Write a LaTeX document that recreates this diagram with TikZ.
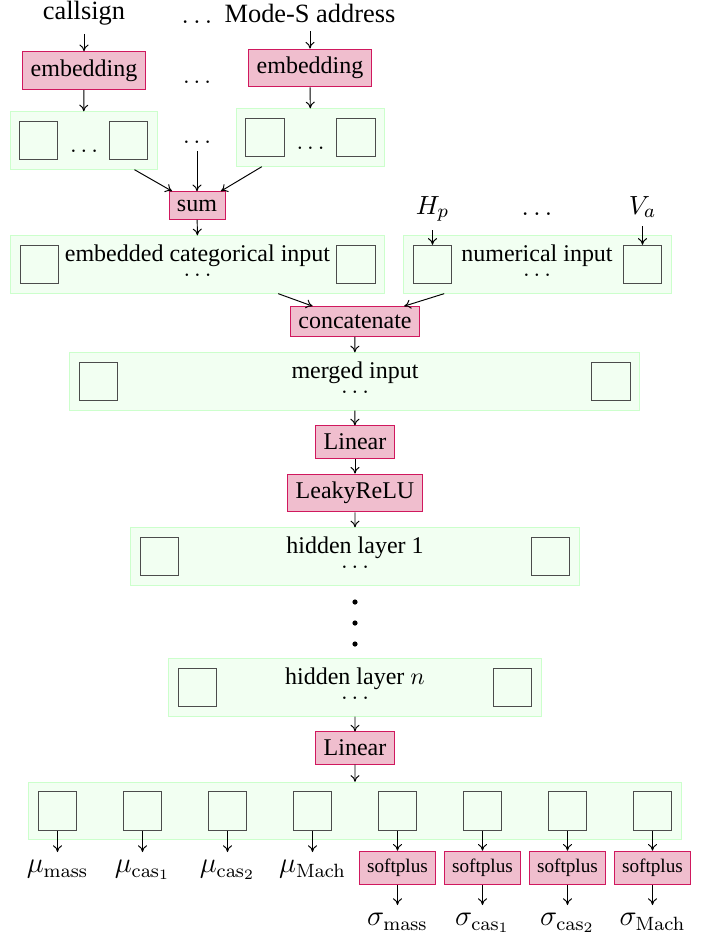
\documentclass[tikz,border=0pt]{standalone}
\usepackage[no-math]{fontspec}
\setmainfont{Liberation Serif}
\usetikzlibrary{arrows,arrows.meta,positioning,fit,calc}
\pgfdeclarelayer{background}
\pgfsetlayers{background,main}
\definecolor{oppink}{RGB}{240,190,206}
\definecolor{opred}{RGB}{208,24,94}

\begin{document}
\begin{tikzpicture}[x=0.4167pt,y=-0.4167pt,>={To[length=2.8pt,width=3.8pt]},
  op/.style={draw=opred,fill=oppink},
  unit/.style={draw=black!70,fill=green!5,minimum size=16pt,inner sep=0pt},
  layer/.style={draw=green!20,fill=green!5,inner sep=3.75pt},
  ttl/.style={anchor=base,inner sep=0pt},
  inp/.style={font=\fontsize{11}{13}\selectfont},
  outp/.style={font=\fontsize{12}{14}\selectfont,anchor=north}]
  \useasboundingbox (0,0) rectangle (707,940);

  % categorical inputs
  \node[inp] (callsign) at (84,13.3) {callsign};
  \node[inp] (modes) at (310,13.3) {Mode-S address};
  \node[inp,anchor=base] (dots_1) at (197,23) {$\dots$};
  \node[op] (emb_1) [below=7.3pt of callsign] {embedding};
  \node[op] (emb_2) [below=7.3pt of modes] {embedding};
  \node[anchor=base] (dots_2) at (197,83) {$\dots$};
  \node[unit] (g1_a) at (38.7,140.5) {};
  \node[unit] (g1_b) at (128.5,140.5) {};
  \node[ttl] at (84,152) {$\dots$};
  \node[anchor=base] (dots_3) at (197,143) {$\dots$};
  \node[unit] (g2_a) at (265,137.5) {};
  \node[unit] (g2_b) at (356,137.5) {};
  \node[ttl] at (310.5,149) {$\dots$};
  \node[op] (sum) at (197,205.5) {sum};

  % embedded + numerical
  \node[unit] (c_a) at (39.5,264.5) {};
  \node[unit] (c_b) at (356,264.5) {};
  \node[ttl] at (197.5,261) {embedded categorical input};
  \node[ttl] at (197.5,276) {$\dots$};
  \node[inp,anchor=base] (h_p) at (432.5,214) {$H_p$};
  \node[inp,anchor=base] at (537,215) {$\dots$};
  \node[inp,anchor=base] (v_a) at (642.5,214) {$V_a$};
  \node[unit] (n_a) at (432.5,264.5) {};
  \node[unit] (n_b) at (642.5,264.5) {};
  \node[ttl] at (537,261) {numerical input};
  \node[ttl] at (537,276) {$\dots$};
  \node[op] (concat) at (355,321.5) {concatenate};

  % merged and hidden layers
  \node[unit] (m_a) at (98.5,381.5) {};
  \node[unit] (m_b) at (611,381.5) {};
  \node[ttl] at (355,378) {merged input};
  \node[ttl] at (355,393.5) {$\dots$};
  \node[op] (lin_1) at (355,442) {Linear};
  \node[op] (relu) at (355,493) {LeakyReLU};
  \node[unit] (h1_a) at (159.5,556.5) {};
  \node[unit] (h1_b) at (550.5,556.5) {};
  \node[ttl] at (355,553) {hidden layer 1};
  \node[ttl] at (355,568) {$\dots$};
  \foreach \y in {602,623,644}
    \fill (355,\y) circle (2.6);
  \node[unit] (hn_a) at (197.5,687.5) {};
  \node[unit] (hn_b) at (512.5,687.5) {};
  \node[ttl] at (355,684) {hidden layer $n$};
  \node[ttl] at (355,699) {$\dots$};
  \node[op] (lin_2) at (355,748) {Linear};

  % outputs
  \foreach \i in {1,...,8}
    \node[unit] (o_\i) at ({85*\i-27.5},811) {};

  \begin{pgfonlayer}{background}
    \node[layer,fit=(g1_a)(g1_b)] (g_1) {};
    \node[layer,fit=(g2_a)(g2_b)] (g_2) {};
    \node[layer,fit=(c_a)(c_b)] (cat_in) {};
    \node[layer,fit=(n_a)(n_b)] (num_in) {};
    \node[layer,fit=(m_a)(m_b)] (merged) {};
    \node[layer,fit=(h1_a)(h1_b)] (hid_1) {};
    \node[layer,fit=(hn_a)(hn_b)] (hid_n) {};
    \node[layer,fit=(o_1)(o_8)] (out) {};
  \end{pgfonlayer}

  \path[->]
    (callsign) edge (emb_1)
    (modes) edge (emb_2)
    (emb_1) edge (g_1)
    (emb_2) edge (g_2)
    (g_1) edge (sum)
    (dots_3) edge (sum)
    (g_2) edge (sum)
    (sum) edge (cat_in)
    (h_p) edge (n_a)
    (v_a) edge (n_b)
    (cat_in) edge (concat)
    (num_in) edge (concat)
    (concat) edge (merged)
    (merged) edge (lin_1)
    (lin_1) edge (relu)
    (relu) edge (hid_1)
    (hid_n) edge (lin_2)
    (lin_2) edge (out);

  \foreach \lab [count=\i] in {mass,cas_1,cas_2,Mach} {
    \node[outp] (mu_\i) at ({85*\i-27.5},852) {$\mu_{\mathrm{\lab}}$};
    \path[->] (o_\i) edge (mu_\i);
  }
  \foreach \lab [count=\i from 5] in {mass,cas_1,cas_2,Mach} {
    \node[op,font=\footnotesize] (sp_\i) at ({85*\i-27.5},868) {softplus};
    \node[outp] (sig_\i) at ({85*\i-27.5},905) {$\sigma_{\mathrm{\lab}}$};
    \path[->] (o_\i) edge (sp_\i) (sp_\i) edge (sig_\i);
  }
\end{tikzpicture}
\end{document}
